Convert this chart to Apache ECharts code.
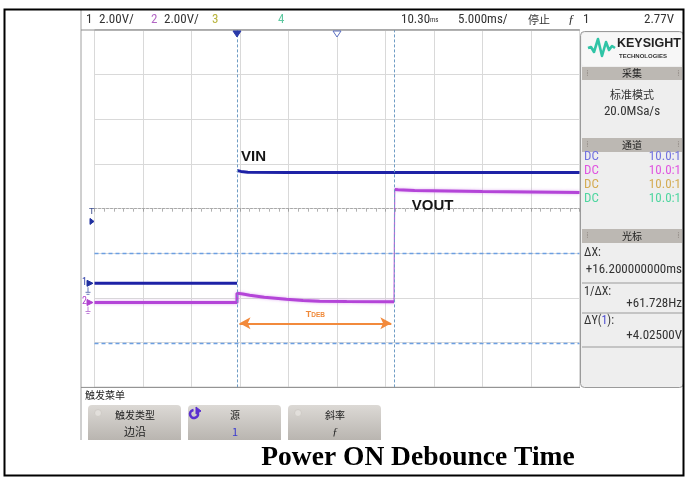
<!DOCTYPE html>
<html><head><meta charset="utf-8">
<script src="https://cdn.jsdelivr.net/npm/echarts@6/dist/echarts.min.js"></script>
<style>html,body{margin:0;padding:0;background:#fff}#c{width:685px;height:477px}</style>
</head><body><div id="c"></div>
<script>
// ---- data read from the scope capture ----
const vinTime   = [0, 14.69, 14.69, 15.1, 15.8, 20, 30, 40, 50];          // ms
const vinVolts  = [0, 0, 5.05, 5.01, 4.97, 4.96, 4.96, 4.96, 4.96];       // V
const voutTime  = [0, 14.69, 14.69, 15.3, 16.0, 17.5, 19.8, 21.5, 23.2, 26, 30.88, 30.95, 31.3, 33, 40, 50];
const voutVolts = [0, 0, 0.42, 0.38, 0.33, 0.24, 0.15, 0.09, 0.06, 0.04, 0.03, 5.06, 5.05, 5.01, 4.97, 4.93];
const cursorX   = [14.69, 30.88];     // ms (ΔX = 16.2 ms)
const cursorY   = [1.34, -2.685];     // V on channel 1 (ΔY = 4.025 V)
const debounce  = {start: 14.95, end: 30.6, level: -1.79};
const triggerLevel = 2.77;            // V
const timeRange = {min: 0, max: 50, perDiv: 5};
const ch1 = {perDiv: 2, groundDiv: 2.33};
const ch2 = {perDiv: 2, groundDiv: 1.90};
const divisions = 8;
const headerTexts = ['1', '2.00V/', '2', '2.00V/', '3', '4', '10.30', '5.000ms/', '停止', 'ƒ', '1', '2.77V'];
const channelRows = [['DC', '10.0:1'], ['DC', '10.0:1'], ['DC', '10.0:1'], ['DC', '10.0:1']];
const cursorTexts = ['ΔX:', '+16.200000000ms', '1/ΔX:', '+61.728Hz', 'ΔY(1):', '+4.02500V'];
const titleText = 'Power ON Debounce Time';

const NARROW = "'Liberation Sans Narrow','Arial Narrow','Roboto Condensed','Liberation Sans',sans-serif";
const CJK = "'Noto Sans CJK SC','Noto Sans',sans-serif";
const G = {left: 94.5, top: 30, width: 485, height: 357.4};

const chart = echarts.init(document.getElementById('c'));
const zip = (a, b) => a.map((t, i) => [t, b[i]]);
// fast edges: the scope does not paint them at full intensity -> break the trace there
const withGap = (t, v, at) => { const d = zip(t, v); d.splice(at, 0, [t[at], '-']); return d; };
const cursorV = {color: '#6f9cc4', type: [3, 2], width: 1};
const cursorH = {color: '#6c9fe2', type: [4, 3], width: 1.3};
const VOUT_C = '#b445d8';

chart.setOption({
  animation: false,
  backgroundColor: '#fff',
  grid: {left: G.left, top: G.top, width: G.width, height: G.height, show: true,
         borderColor: '#8c8c8c', borderWidth: 1, backgroundColor: 'transparent'},
  xAxis: [
    {type: 'value', min: timeRange.min, max: timeRange.max, interval: timeRange.perDiv,
     axisLine: {show: false, onZero: false}, axisTick: {show: false}, axisLabel: {show: false},
     splitLine: {show: true, lineStyle: {color: '#d9d9d9', width: 1}}},
    {type: 'value', min: timeRange.min, max: timeRange.max, interval: timeRange.perDiv,
     position: 'bottom', offset: -G.height / 2,
     axisLine: {show: true, onZero: false, lineStyle: {color: '#a8a8a8', type: [2, 2]}},
     axisTick: {show: true, length: 3, lineStyle: {color: '#a0a0a0'}},
     minorTick: {show: true, splitNumber: 5, length: 3, lineStyle: {color: '#b0b0b0'}},
     axisLabel: {show: false}, splitLine: {show: false}}
  ],
  yAxis: [
    {type: 'value', min: 0, max: divisions, interval: 1,
     axisLine: {show: false, onZero: false}, axisTick: {show: false}, axisLabel: {show: false},
     splitLine: {show: true, lineStyle: {color: '#d9d9d9', width: 1}}},
    {type: 'value', show: false, min: -ch1.groundDiv * ch1.perDiv, max: (divisions - ch1.groundDiv) * ch1.perDiv,
     axisLine: {onZero: false}, splitLine: {show: false}},
    {type: 'value', show: false, min: -ch2.groundDiv * ch2.perDiv, max: (divisions - ch2.groundDiv) * ch2.perDiv,
     axisLine: {onZero: false}, splitLine: {show: false}}
  ],
  series: [
    {name: 'VIN', type: 'line', xAxisIndex: 0, yAxisIndex: 1, data: withGap(vinTime, vinVolts, 2),
     connectNulls: false, symbol: 'none', lineStyle: {color: '#1e22a6', width: 3}, z: 5,
     markPoint: {symbol: 'circle', symbolSize: 0, silent: true,
       data: [{coord: [vinTime[2], vinVolts[2]], label: {show: true, formatter: 'VIN', position: 'right',
         offset: [-1, -14], color: '#151515', fontSize: 15, fontWeight: 'bold', fontFamily: 'Liberation Sans'}}]},
     markLine: {silent: true, symbol: ['none', 'none'], animation: false, label: {show: false}, z: 6,
       data: [
         {xAxis: cursorX[0], lineStyle: cursorV},
         {xAxis: cursorX[1], lineStyle: cursorV},
         {yAxis: cursorY[0], lineStyle: cursorH},
         {yAxis: cursorY[1], lineStyle: cursorH},
         [{coord: [debounce.start, debounce.level], symbol: 'arrow', symbolSize: [9, 11],
           lineStyle: {color: '#f28a3c', width: 2, type: 'solid'},
           label: {show: true, position: 'insideMiddleTop', distance: 4,
             formatter: '{t|T}{d|DEB}',
             rich: {t: {color: '#f08a3a', fontSize: 9, fontWeight: 'bold', fontFamily: 'Liberation Sans'},
                    d: {color: '#f08a3a', fontSize: 6.5, fontWeight: 'bold', fontFamily: 'Liberation Sans'}}}},
          {coord: [debounce.end, debounce.level], symbol: 'arrow', symbolSize: [9, 11]}]
       ]}},
    {name: 'VOUT', type: 'line', xAxisIndex: 0, yAxisIndex: 2, data: withGap(voutTime, voutVolts, 11),
     connectNulls: false, symbol: 'none',
     lineStyle: {color: VOUT_C, width: 3, shadowColor: 'rgba(210,140,235,0.7)', shadowBlur: 3}, z: 4,
     markPoint: {symbol: 'circle', symbolSize: 0, silent: true,
       data: [{coord: [voutTime[11], voutVolts[11]], label: {show: true, formatter: 'VOUT', position: 'right',
         offset: [12, 16], color: '#151515', fontSize: 15, fontWeight: 'bold', fontFamily: 'Liberation Sans'}}]}},
    {name: 'VOUT edge', type: 'line', xAxisIndex: 0, yAxisIndex: 2,
     data: zip(voutTime.slice(10, 12), voutVolts.slice(10, 12)),
     symbol: 'none', lineStyle: {color: VOUT_C, width: 1.2, opacity: 0.85}, z: 4}
  ]
});

// ---- scope user-interface decoration ----
const px = t => chart.convertToPixel({xAxisIndex: 0}, t);
const py1 = v => chart.convertToPixel({yAxisIndex: 1}, v);
const py2 = v => chart.convertToPixel({yAxisIndex: 2}, v);
const T = (x, y, text, o = {}) => ({type: 'text', z: 20, silent: true,
  style: Object.assign({x, y, text, fill: o.fill || '#333', font: o.font || ('13px ' + NARROW),
    textAlign: o.align || 'left', textVerticalAlign: 'middle'}, o.extra || {})});
const L = (x1, y1, x2, y2, c, w = 1, d) => ({type: 'line', z: 15, silent: true,
  shape: {x1, y1, x2, y2}, style: {stroke: c, lineWidth: w, lineDash: d}});
const R = (x, y, w, h, fill, stroke, r = 0, z = 10) => ({type: 'rect', z, silent: true,
  shape: {x, y, width: w, height: h, r}, style: {fill, stroke}});
const tri = (pts, fill, stroke) => ({type: 'polygon', z: 20, silent: true, shape: {points: pts},
  style: {fill, stroke, lineWidth: 1}});

const g = [];
// screenshot frame
g.push(L(81, 10, 81, 440, '#a0a0a0'));
g.push(L(81, 30, 580, 30, '#8c8c8c'));
g.push(L(81, 387.4, 580, 387.4, '#8c8c8c'));
// header
const hx = [86, 99, 151, 164, 212, 278, 401, 458, 528, 568, 583, 644];
const hc = ['#333', '#333', '#b266c4', '#333', '#b8b43c', '#5ec8a0', '#333', '#333', '#333', '#333', '#333', '#333'];
headerTexts.forEach((s, i) => {
  if (i === 6) {
    g.push({type: 'text', z: 20, silent: true, style: {x: hx[i], y: 20, text: s + '{s|ms}', fill: '#333',
      font: '13px ' + NARROW, textVerticalAlign: 'middle', rich: {s: {fontSize: 7, fontFamily: NARROW, fill: '#333'}}}});
  } else {
    g.push(T(hx[i], 20, s, {fill: hc[i], font: (i === 8 ? '11px ' + CJK : (i === 9 ? 'italic 13px Liberation Serif' : '13px ' + NARROW))}));
  }
});
// top markers: trigger point and time reference
const tx = px(cursorX[0]), cx = px((timeRange.min + timeRange.max) / 2);
g.push(tri([[tx - 4, 31], [tx + 4, 31], [tx, 37]], '#2a3aa8', '#2a3aa8'));
g.push(tri([[cx - 4, 31], [cx + 4, 31], [cx, 37]], '#ffffff', '#5a6ec0'));
// left markers
const tl = py1(triggerLevel);
g.push(T(89, tl - 10, 'T', {fill: '#3a4a8a', font: '9px Liberation Sans'}));
g.push(tri([[90, tl - 3], [90, tl + 3], [94, tl]], '#2030a0', '#2030a0'));
const g1 = py1(0), g2 = py2(0);
g.push(T(82, g1 - 1, '1', {fill: '#2a3aa8', font: '10px ' + NARROW}));
g.push(tri([[87, g1 - 3], [87, g1 + 3], [93, g1]], '#2030a0', '#2030a0'));
g.push(L(88, g1 + 4, 88, g1 + 9, '#6a78b8')); g.push(L(85.5, g1 + 9, 90.5, g1 + 9, '#6a78b8')); g.push(L(86.5, g1 + 11, 89.5, g1 + 11, '#6a78b8'));
g.push(T(82, g2 - 1, '2', {fill: '#b040d0', font: '10px ' + NARROW}));
g.push(tri([[87, g2 - 3], [87, g2 + 3], [93, g2]], '#b040d0', '#b040d0'));
g.push(L(88, g2 + 4, 88, g2 + 9, '#c080d8')); g.push(L(85.5, g2 + 9, 90.5, g2 + 9, '#c080d8')); g.push(L(86.5, g2 + 11, 89.5, g2 + 11, '#c080d8'));

// right panel
g.push(R(580.5, 31.5, 103, 356, '#eeeeee', '#9a9a9a', 4, 8));
g.push(R(582, 33, 100, 33, '#f7f7f7', null, 3, 9));
g.push({type: 'polyline', z: 20, silent: true, shape: {points: [[588, 48], [591, 47], [594, 52], [598, 39], [602, 56], [606, 42], [609, 50], [612, 46], [615, 48]]},
  style: {stroke: '#2fc4a6', lineWidth: 2.6, lineJoin: 'round', fill: null}});
g.push(T(617, 44, 'KEYSIGHT', {fill: '#222', font: 'bold 12.5px Liberation Sans'}));
g.push(T(619, 56, 'TECHNOLOGIES', {fill: '#333', font: 'bold 6px Liberation Sans'}));
const bar = (y, h, text) => {
  g.push(R(582, y, 100, h, '#bcb8b3', null, 0, 9));
  g.push(T(586, y + h / 2, '⁞', {fill: '#9a948e', font: '9px DejaVu Sans'}));
  g.push(T(677, y + h / 2, '⁞', {fill: '#9a948e', font: '9px DejaVu Sans'}));
  g.push(T(632, y + h / 2, text, {fill: '#222', font: '10px ' + CJK, align: 'center'}));
};
bar(67, 13, '采集');
g.push(T(632, 95, '标准模式', {fill: '#333', font: '11px ' + CJK, align: 'center'}));
g.push(T(632, 112, '20.0MSa/s', {fill: '#333', font: '13px ' + NARROW, align: 'center'}));
bar(138, 14, '通道');
const dcColors = ['#7373e0', '#e056e0', '#d4ac54', '#4fd6a0'];
channelRows.forEach((r, i) => {
  const y = 157 + i * 14;
  g.push(T(584, y, r[0], {fill: dcColors[i], font: '13px ' + NARROW}));
  g.push(T(681, y, r[1], {fill: dcColors[i], font: '13px ' + NARROW, align: 'right'}));
});
bar(229, 14, '光标');
g.push(T(584, 253, cursorTexts[0], {fill: '#333', font: '12px ' + NARROW}));
g.push(T(682, 270, cursorTexts[1], {fill: '#333', font: '13px ' + NARROW, align: 'right'}));
g.push(L(582, 283, 683, 283, '#9a9a9a'));
g.push(T(584, 292, cursorTexts[2], {fill: '#333', font: '12px ' + NARROW}));
g.push(T(682, 304, cursorTexts[3], {fill: '#333', font: '13px ' + NARROW, align: 'right'}));
g.push(L(582, 313, 683, 313, '#9a9a9a'));
g.push({type: 'text', z: 20, silent: true, style: {x: 584, y: 321, text: 'ΔY({b|1}):', fill: '#333',
  font: '12px ' + NARROW, textVerticalAlign: 'middle', rich: {b: {fill: '#4a4ad0', fontSize: 12, fontFamily: NARROW}}}});
g.push(T(682, 336, cursorTexts[5], {fill: '#333', font: '13px ' + NARROW, align: 'right'}));
g.push(L(582, 347, 683, 347, '#9a9a9a'));

// bottom softkey menu
g.push(T(85, 395, '触发菜单', {fill: '#222', font: '10px ' + CJK}));
const grad = new echarts.graphic.LinearGradient(0, 0, 0, 1, [{offset: 0, color: '#dcd9d5'}, {offset: 1, color: '#b9b5b0'}]);
[[88, '触发类型', '边沿', '#222'], [188, '源', '1', '#3a3ad0'], [288, '斜率', 'ƒ', '#222']].forEach((b, i) => {
  g.push({type: 'rect', z: 10, silent: true, shape: {x: b[0], y: 405, width: 93, height: 35, r: [4, 4, 0, 0]}, style: {fill: grad}});
  g.push(T(b[0] + 47, 415, b[1], {fill: '#222', font: '10px ' + CJK, align: 'center'}));
  g.push(T(b[0] + 47, 432, b[2], {fill: b[3], font: i === 2 ? 'italic 11px Liberation Serif' : '11px ' + CJK, align: 'center'}));
  if (i !== 1) g.push({type: 'circle', z: 11, silent: true, shape: {cx: b[0] + 10, cy: 413, r: 3.5}, style: {fill: '#e2dfdb', stroke: '#cfcbc6'}});
});
g.push({type: 'arc', z: 12, silent: true, shape: {cx: 194, cy: 414, r: 4, startAngle: -0.3, endAngle: 4.6}, style: {stroke: '#5a2fd0', lineWidth: 2.6, fill: null}});
g.push(tri([[196, 407], [201, 411], [196, 414]], '#5a2fd0', '#5a2fd0'));

// figure border + caption
g.push({type: 'rect', z: 30, silent: true, shape: {x: 4.5, y: 9.5, width: 679, height: 466}, style: {fill: null, stroke: '#000', lineWidth: 2}});
g.push(T(418, 458, titleText, {fill: '#000', font: 'bold 27.5px "Liberation Serif","Times New Roman",serif', align: 'center'}));

chart.setOption({graphic: {elements: g}});
</script></body></html>
